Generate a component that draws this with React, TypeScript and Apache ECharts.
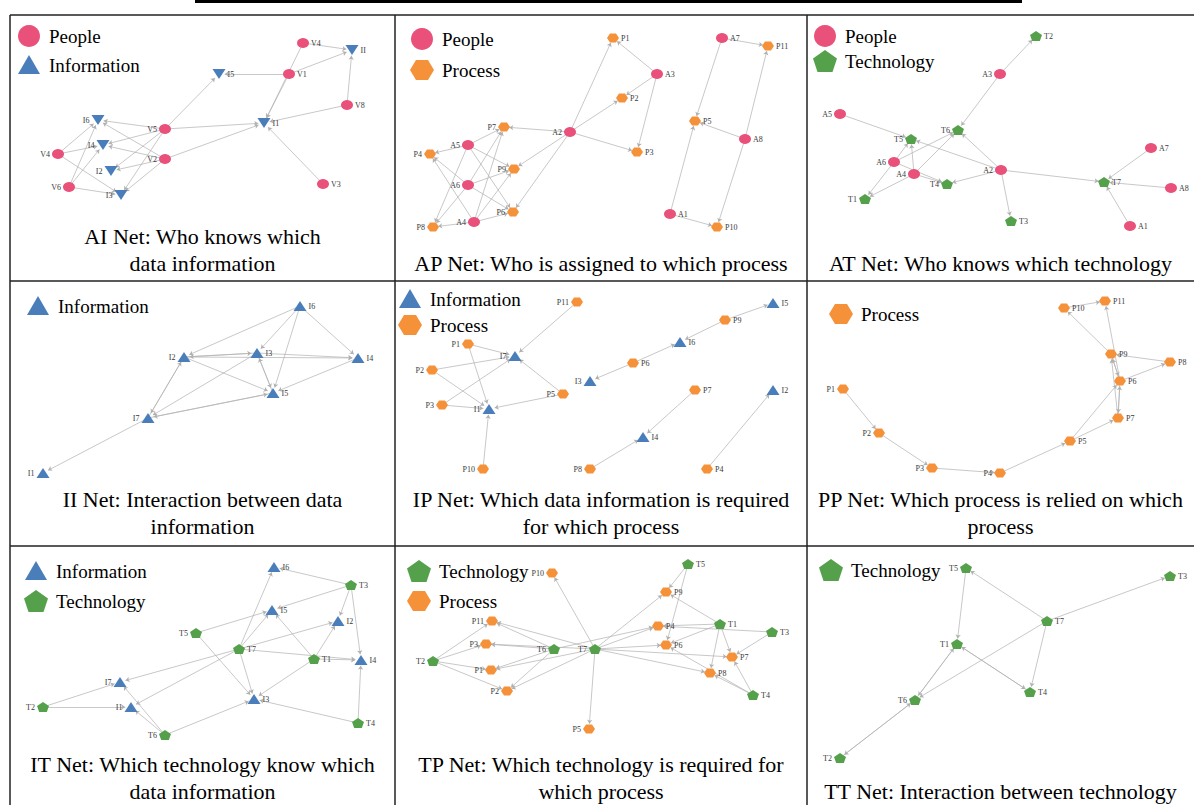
import React, { useEffect, useRef } from "react";
import * as echarts from "echarts";

// ---------- colours / symbols ----------
const COLORS: Record<string, string> = { A: "#E9507A", I: "#4A7EBB", P: "#F59139", T: "#55A14B" };
const LEGEND_NAMES: Record<string, string> = { A: "People", I: "Information", P: "Process", T: "Technology" };
const HEX = "path://M3,0 L9,0 L12,5 L9,10 L3,10 L0,5 Z";
const PENT = "path://M6,0 L12,4.4 L9.8,11 L2.2,11 L0,4.4 Z";

// ---------- data: node = [id, kind, x, y, labelSide] (panel-local layout), edge = [source, target] ----------
type N = [string, string, number, number, string];
type E = [string, string];

const aiNodes: N[] = [
  ["V4a", "A", 293, 28, "r"], ["II", "I", 342, 35, "r"], ["I5", "I", 209, 59, "r"], ["V1", "A", 279, 59, "r"],
  ["V8", "A", 337, 90, "r"], ["I1", "I", 254, 108, "r"], ["I6", "I", 88, 105, "l"], ["V5", "A", 155, 114, "l"],
  ["I4", "I", 93, 130, "l"], ["V4", "A", 48, 139, "l"], ["V2", "A", 155, 144, "l"], ["I2", "I", 101, 156, "l"],
  ["V6", "A", 59, 172, "l"], ["I3", "I", 111, 180, "l"], ["V3", "A", 313, 169, "r"],
];
const aiEdges: E[] = [
  ["V4a", "II"], ["V1", "II"], ["V8", "II"], ["V1", "I5"], ["V4a", "I1"], ["V1", "I1"], ["V8", "I1"], ["V3", "I1"],
  ["V5", "I5"], ["V5", "I1"], ["V5", "I6"], ["V5", "I4"], ["V5", "I2"], ["V5", "I3"], ["V2", "I1"], ["V2", "I6"],
  ["V2", "I4"], ["V2", "I2"], ["V2", "I3"], ["V4", "I6"], ["V4", "I4"], ["V4", "I3"], ["V6", "I6"], ["V6", "I4"], ["V6", "I3"],
];

const apNodes: N[] = [
  ["P1", "P", 218, 23, "r"], ["A7", "A", 327, 23, "r"], ["P11", "P", 373, 31, "r"], ["A3", "A", 262, 59, "r"],
  ["P2", "P", 227, 83, "r"], ["P5", "P", 300, 106, "r"], ["P7", "P", 109, 112, "l"], ["A2", "A", 175, 117, "l"],
  ["A8", "A", 350, 124, "r"], ["A5", "A", 73, 130, "l"], ["P4", "P", 35, 139, "l"], ["P3", "P", 242, 137, "r"],
  ["P9", "P", 119, 154, "l"], ["A6", "A", 73, 170, "l"], ["P6", "P", 118, 197, "l"], ["A4", "A", 79, 207, "l"],
  ["A1", "A", 275, 199, "r"], ["P8", "P", 38, 212, "l"], ["P10", "P", 322, 212, "r"],
];
const apEdges: E[] = [
  ["A3", "P1"], ["A3", "P2"], ["A3", "P3"], ["A2", "P1"], ["A2", "P2"], ["A2", "P3"], ["A2", "P7"], ["A2", "P9"], ["A2", "P6"],
  ["A7", "P11"], ["A7", "P5"], ["A8", "P11"], ["A8", "P5"], ["A8", "P10"], ["A1", "P5"], ["A1", "P10"],
  ["A5", "P7"], ["A5", "P4"], ["A5", "P9"], ["A5", "P6"], ["A5", "P8"], ["A6", "P7"], ["A6", "P9"], ["A6", "P6"], ["A6", "P8"], ["A6", "P4"],
  ["A4", "P7"], ["A4", "P9"], ["A4", "P6"], ["A4", "P8"], ["A4", "P4"],
];

const atNodes: N[] = [
  ["T2", "T", 229, 21, "r"], ["A3", "A", 193, 59, "l"], ["A5", "A", 33, 99, "l"], ["T6", "T", 151, 115, "l"],
  ["T5", "T", 104, 124, "l"], ["A7", "A", 344, 133, "r"], ["A6", "A", 87, 147, "l"], ["A2", "A", 194, 155, "l"],
  ["A4", "A", 107, 159, "l"], ["T4", "T", 140, 169, "l"], ["T7", "T", 297, 167, "r"], ["A8", "A", 364, 173, "r"],
  ["T1", "T", 58, 184, "l"], ["T3", "T", 204, 206, "r"], ["A1", "A", 323, 211, "r"],
];
const atEdges: E[] = [
  ["A3", "T2"], ["A3", "T6"], ["A5", "T5"], ["A2", "T5"], ["A2", "T6"], ["A2", "T4"], ["A2", "T3"], ["A2", "T7"],
  ["A6", "T6"], ["A6", "T5"], ["A6", "T1"], ["A6", "T4"], ["A4", "T5"], ["A4", "T6"], ["A4", "T1"], ["A4", "T4"],
  ["A7", "T7"], ["A8", "T7"], ["A1", "T7"],
];

const iiNodes: N[] = [
  ["I6", "I", 290, 25, "r"], ["I2", "I", 174, 76, "l"], ["I3", "I", 247, 72, "r"], ["I4", "I", 348, 77, "r"],
  ["I5", "I", 263, 112, "r"], ["I7", "I", 138, 137, "l"], ["I1", "I", 33, 192, "l"],
];
const iiEdges: E[] = [
  ["I6", "I2"], ["I6", "I3"], ["I6", "I5"], ["I6", "I4"], ["I2", "I3"], ["I3", "I2"], ["I2", "I4"], ["I3", "I4"],
  ["I2", "I5"], ["I2", "I7"], ["I7", "I2"], ["I3", "I5"], ["I5", "I3"], ["I3", "I7"], ["I4", "I5"], ["I5", "I7"],
  ["I7", "I5"], ["I7", "I1"],
];

const ipNodes: N[] = [
  ["P11", "P", 182, 21, "l"], ["I5", "I", 378, 22, "r"], ["P9", "P", 330, 39, "r"], ["P1", "P", 73, 63, "l"],
  ["I6", "I", 285, 61, "r"], ["I7", "I", 120, 75, "l"], ["P6", "P", 238, 82, "r"], ["P2", "P", 37, 89, "l"],
  ["I3", "I", 195, 100, "l"], ["P7", "P", 300, 109, "r"], ["I2", "I", 378, 109, "r"], ["P5", "P", 168, 113, "l"],
  ["P3", "P", 47, 124, "l"], ["I1", "I", 94, 128, "l"], ["I4", "I", 248, 156, "r"], ["P10", "P", 88, 188, "l"],
  ["P8", "P", 195, 188, "l"], ["P4", "P", 312, 188, "r"],
];
const ipEdges: E[] = [
  ["P11", "I7"], ["P1", "I7"], ["P2", "I7"], ["P3", "I7"], ["P5", "I7"], ["P1", "I1"], ["P2", "I1"], ["P3", "I1"],
  ["P5", "I1"], ["P10", "I1"], ["P9", "I5"], ["P9", "I6"], ["P6", "I6"], ["P6", "I3"], ["P7", "I4"], ["P8", "I4"], ["P4", "I2"],
];

const ppNodes: N[] = [
  ["P11", "P", 298, 20, "r"], ["P10", "P", 257, 27, "r"], ["P9", "P", 304, 73, "r"], ["P8", "P", 363, 81, "r"],
  ["P6", "P", 313, 100, "r"], ["P1", "P", 36, 108, "l"], ["P7", "P", 311, 137, "r"], ["P2", "P", 72, 152, "l"],
  ["P5", "P", 263, 160, "r"], ["P3", "P", 125, 187, "l"], ["P4", "P", 193, 192, "l"],
];
const ppEdges: E[] = [
  ["P1", "P2"], ["P2", "P3"], ["P3", "P4"], ["P4", "P5"], ["P5", "P6"], ["P5", "P7"], ["P6", "P7"], ["P7", "P6"],
  ["P6", "P9"], ["P9", "P6"], ["P7", "P9"], ["P8", "P9"], ["P6", "P8"], ["P9", "P10"], ["P6", "P11"], ["P10", "P11"],
];

const itNodes: N[] = [
  ["I6", "I", 264, 21, "r"], ["T3", "T", 341, 39, "r"], ["I5", "I", 262, 64, "r"], ["I2", "I", 328, 75, "r"],
  ["T5", "T", 186, 87, "l"], ["T7", "T", 229, 103, "r"], ["T1", "T", 304, 113, "r"], ["I4", "I", 351, 114, "r"],
  ["I7", "I", 110, 136, "l"], ["T2", "T", 33, 161, "l"], ["I1", "I", 121, 161, "l"], ["I3", "I", 244, 153, "r"],
  ["T4", "T", 348, 177, "r"], ["T6", "T", 155, 189, "l"],
];
const itEdges: E[] = [
  ["T3", "I6"], ["T3", "I5"], ["T3", "I2"], ["T3", "I4"], ["T7", "I6"], ["T7", "I5"], ["T7", "I2"], ["T7", "I7"],
  ["T7", "I1"], ["T7", "I3"], ["T7", "I4"], ["T1", "I5"], ["T1", "I2"], ["T1", "I4"], ["T1", "I3"], ["T5", "I5"],
  ["T5", "I3"], ["T2", "I7"], ["T2", "I1"], ["T6", "I7"], ["T6", "I1"], ["T6", "I3"], ["T4", "I4"], ["T4", "I3"],
];

const tpNodes: N[] = [
  ["T5", "T", 293, 18, "r"], ["P10", "P", 157, 27, "l"], ["P9", "P", 271, 46, "r"], ["P11", "P", 97, 75, "l"],
  ["T1", "T", 325, 78, "r"], ["P4", "P", 263, 80, "r"], ["T3", "T", 377, 86, "r"], ["P3", "P", 91, 98, "l"],
  ["P6", "P", 271, 99, "r"], ["T6", "T", 159, 103, "l"], ["T7", "T", 200, 103, "l"], ["T2", "T", 38, 115, "l"],
  ["P7", "P", 337, 111, "r"], ["P1", "P", 96, 124, "l"], ["P8", "P", 315, 127, "r"], ["P2", "P", 112, 145, "l"],
  ["T4", "T", 358, 149, "r"], ["P5", "P", 194, 183, "l"],
];
const tpEdges: E[] = [
  ["T7", "P10"], ["T7", "P9"], ["T7", "P4"], ["T7", "P6"], ["T7", "P7"], ["T7", "P8"], ["T7", "P11"], ["T7", "P1"],
  ["T7", "P2"], ["T7", "P5"], ["T7", "P3"], ["T6", "P11"], ["T6", "P3"], ["T6", "P1"], ["T6", "P2"], ["T6", "P4"],
  ["T2", "P11"], ["T2", "P3"], ["T2", "P1"], ["T2", "P2"], ["T5", "P9"], ["T5", "P6"], ["T1", "P9"], ["T1", "P4"],
  ["T1", "P6"], ["T1", "P7"], ["T1", "P8"], ["T3", "P4"], ["T3", "P7"], ["T4", "P7"], ["T4", "P8"], ["T4", "P6"],
];

const ttNodes: N[] = [
  ["T5", "T", 159, 22, "l"], ["T3", "T", 363, 30, "r"], ["T7", "T", 240, 75, "r"], ["T1", "T", 150, 98, "l"],
  ["T4", "T", 223, 146, "r"], ["T6", "T", 108, 154, "l"], ["T2", "T", 33, 212, "l"],
];
const ttEdges: E[] = [
  ["T7", "T5"], ["T7", "T3"], ["T7", "T4"], ["T7", "T6"], ["T5", "T1"], ["T1", "T4"], ["T4", "T1"],
  ["T1", "T6"], ["T6", "T1"], ["T6", "T2"], ["T2", "T6"],
];

const captions: string[] = [
  "AI Net: Who knows which\ndata information",
  "AP Net: Who is assigned to which process",
  "AT Net: Who knows which technology",
  "II Net: Interaction between data\ninformation",
  "IP Net: Which data information is required\nfor which process",
  "PP Net: Which process is relied on which\nprocess",
  "IT Net: Which technology know which\ndata information",
  "TP Net: Which technology is required for\nwhich process",
  "TT Net: Interaction between technology",
];
const legendKinds: string[][] = [
  ["A", "I"], ["A", "P"], ["A", "T"], ["I"], ["I", "P"], ["P"], ["I", "T"], ["T", "P"], ["T"],
];

// ---------- layout (positions / sizes) ----------
const COLS = [[10, 385], [395, 412], [807, 387]];
const ROWS = [[15, 266], [281, 265], [546, 259]];
const CAPTION_BOTTOM = [277, 540, 805];
const LEGEND_POS: [number, number, number][] = [
  [29, 36, 29], [422, 39, 31], [825, 36, 25], [38, 306, 0], [410, 299, 26], [841, 314, 0],
  [36, 571, 30], [419, 571, 30], [831, 570, 0],
];
const panelsNodes = [aiNodes, apNodes, atNodes, iiNodes, ipNodes, ppNodes, itNodes, tpNodes, ttNodes];
const panelsEdges = [aiEdges, apEdges, atEdges, iiEdges, ipEdges, ppEdges, itEdges, tpEdges, ttEdges];
const SERIF = "Liberation Serif";

function legendShape(kind: string, cx: number, cy: number): any {
  const fill = COLORS[kind];
  if (kind === "A") return { type: "circle", shape: { cx, cy, r: 11 }, style: { fill } };
  let pts: number[][];
  if (kind === "I") pts = [[cx, cy - 10], [cx + 11, cy + 9], [cx - 11, cy + 9]];
  else if (kind === "P") pts = [[cx - 12, cy], [cx - 6, cy - 10], [cx + 6, cy - 10], [cx + 12, cy], [cx + 6, cy + 10], [cx - 6, cy + 10]];
  else pts = [[cx, cy - 11], [cx + 12, cy - 2.5], [cx + 7.5, cy + 11], [cx - 7.5, cy + 11], [cx - 12, cy - 2.5]];
  return { type: "polygon", shape: { points: pts }, style: { fill } };
}

export default function App() {
  const ref = useRef<HTMLDivElement>(null);
  useEffect(() => {
    if (!ref.current) return;
    const chart = echarts.init(ref.current, undefined, { renderer: "svg" });
    const grids: any[] = [];
    const xAxes: any[] = [];
    const yAxes: any[] = [];
    const series: any[] = [];
    const graphics: any[] = [];

    for (let i = 0; i < 9; i++) {
      const [x0, w] = COLS[i % 3];
      const [y0, h] = ROWS[Math.floor(i / 3)];
      grids.push({ left: x0, top: y0, width: w, height: h, show: false });
      xAxes.push({ gridIndex: i, type: "value", min: 0, max: w, show: false });
      yAxes.push({ gridIndex: i, type: "value", min: 0, max: h, inverse: true, show: false });
      const flip = i === 0;
      series.push({
        type: "graph",
        coordinateSystem: "cartesian2d",
        xAxisIndex: i,
        yAxisIndex: i,
        silent: true,
        emphasis: { disabled: true },
        edgeSymbol: ["none", "arrow"],
        edgeSymbolSize: [0, 4],
        lineStyle: { color: "#b0b0b0", width: 0.7, opacity: 1, curveness: 0 },
        label: { show: true, fontSize: 8, fontFamily: SERIF, color: "#3a3a3a", distance: 2 },
        data: panelsNodes[i].map(([id, kind, x, y, side]) => {
          let symbol: string = "circle";
          let size: number[] = [12, 10];
          if (kind === "I") { symbol = "triangle"; size = [13, 10]; }
          else if (kind === "P") { symbol = HEX; size = [12, 9]; }
          else if (kind === "T") { symbol = PENT; size = [12, 10]; }
          return {
            id,
            name: id.replace(/a$/, ""),
            value: [x, y],
            symbol,
            symbolSize: size,
            symbolRotate: flip && kind === "I" ? 180 : 0,
            itemStyle: { color: COLORS[kind] },
            label: { position: side === "r" ? "right" : "left" },
          };
        }),
        links: panelsEdges[i].map(([s, t]) => ({ source: s, target: t })),
      });

      // legend
      const [lx, ly, gap] = LEGEND_POS[i];
      legendKinds[i].forEach((k, j) => {
        const cy = ly + j * gap;
        graphics.push(legendShape(k, lx, cy));
        graphics.push({
          type: "text",
          x: lx + 20,
          y: cy,
          style: { text: LEGEND_NAMES[k], fontSize: 19, fontFamily: SERIF, fill: "#000", align: "left", verticalAlign: "middle" },
        });
      });
      // caption
      graphics.push({
        type: "text",
        x: x0 + w / 2,
        y: CAPTION_BOTTOM[Math.floor(i / 3)],
        style: { text: captions[i], fontSize: 22, fontFamily: SERIF, fill: "#000", align: "center", verticalAlign: "bottom", lineHeight: 27 },
      });
    }

    // table frame
    const lineStyle = { stroke: "#222", lineWidth: 1.5 };
    const frame = [
      [10, 15, 1194, 15], [10, 281, 1194, 281], [10, 546, 1194, 546],
      [10, 15, 10, 805], [395, 15, 395, 805], [807, 15, 807, 805],
    ];
    frame.forEach(([x1, y1, x2, y2]) => graphics.push({ type: "line", shape: { x1, y1, x2, y2 }, style: lineStyle }));
    graphics.push({ type: "line", shape: { x1: 195, y1: 1.5, x2: 1022, y2: 1.5 }, style: { stroke: "#000", lineWidth: 3 } });

    chart.setOption({
      animation: false,
      backgroundColor: "#fff",
      grid: grids,
      xAxis: xAxes,
      yAxis: yAxes,
      series,
      graphic: { elements: graphics },
    });
    return () => chart.dispose();
  }, []);
  return <div ref={ref} style={{ position: "absolute", left: 0, top: 0, width: 1194, height: 805 }} />;
}
